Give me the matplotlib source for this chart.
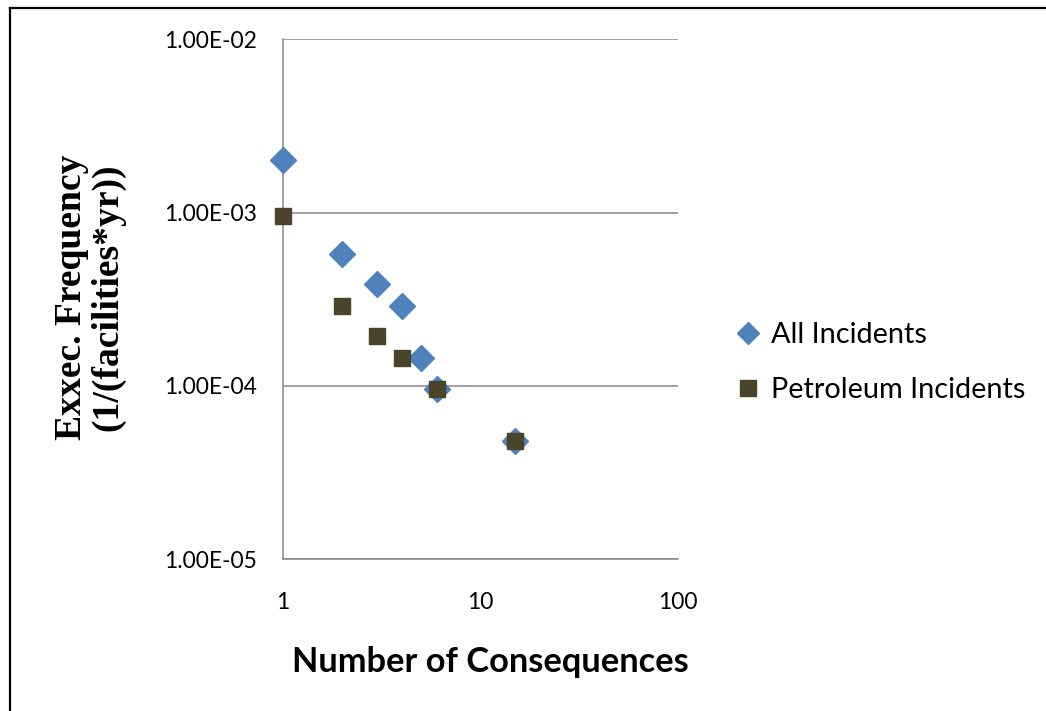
import matplotlib
matplotlib.use('Agg')
import matplotlib.pyplot as plt
from matplotlib.lines import Line2D

# ---- data ----
consequences_all = [1, 2, 3, 4, 5, 6, 15]
freq_all = [2.0e-3, 5.8e-4, 3.87e-4, 2.88e-4, 1.44e-4, 9.6e-5, 4.8e-5]
consequences_pet = [1, 2, 3, 4, 6, 15]
freq_pet = [9.6e-4, 2.88e-4, 1.93e-4, 1.44e-4, 9.6e-5, 4.8e-5]
series_labels = ['All Incidents', 'Petroleum Incidents']
y_ticks = [1e-5, 1e-4, 1e-3, 1e-2]
y_tick_labels = ['1.00E-05', '1.00E-04', '1.00E-03', '1.00E-02']
x_ticks = [1, 10, 100]
x_tick_labels = ['1', '10', '100']
x_label = 'Number of Consequences'
y_label = 'Exxec. Frequency\n(1/(facilities*yr))'

W, H = 1046, 711
fig = plt.figure(figsize=(W / 100, H / 100), dpi=100)
renderer = fig.canvas.get_renderer()


def fit(t, target, dim='w'):
    """scale the font size of text t so its extent matches target pixels"""
    for _ in range(3):
        bb = t.get_window_extent(renderer=renderer)
        cur = bb.width if dim == 'w' else bb.height
        t.set_fontsize(t.get_fontsize() * target / cur)
    return t.get_fontsize()


# axes placed in pixel terms
x0, x1 = 283, 678
ytop, ybot = 39.3, 559
ax = fig.add_axes([x0 / W, 1 - ybot / H, (x1 - x0) / W, (ybot - ytop) / H])
ax.set_xscale('log')
ax.set_yscale('log')
ax.set_xlim(1, 100)
ax.set_ylim(1e-5, 1e-2)

grid_col = '#868686'
blue = '#4F81BD'
olive = '#4A442A'

ax.plot(consequences_all, freq_all, linestyle='none', marker='D', ms=13,
        color=blue, mec=blue, clip_on=False, zorder=3, label=series_labels[0])
ax.plot(consequences_pet, freq_pet, linestyle='none', marker='s', ms=11.7,
        color=olive, mec=olive, clip_on=False, zorder=4, label=series_labels[1])

ax.set_yticks(y_ticks)
ax.set_yticklabels(y_tick_labels)
ax.set_xticks(x_ticks)
ax.set_xticklabels(x_tick_labels)
ax.yaxis.set_minor_locator(matplotlib.ticker.NullLocator())
ax.xaxis.set_minor_locator(matplotlib.ticker.NullLocator())
ax.grid(axis='y', color=grid_col, lw=1.1)
ax.grid(axis='x', visible=False)
ax.set_axisbelow(True)
for s in ['top', 'right']:
    ax.spines[s].set_visible(False)
for s in ['left', 'bottom']:
    ax.spines[s].set_color(grid_col)
    ax.spines[s].set_linewidth(1.1)

# tick label fonts
tick_font = 'Lato'
probe = fig.text(0, 0, '1.00E-02', family=tick_font, fontsize=18)
ts = fit(probe, 93)
probe.remove()
for lab in ax.get_yticklabels() + ax.get_xticklabels():
    lab.set_family(tick_font)
    lab.set_fontsize(ts)
ax.tick_params(axis='y', length=0, pad=19)
ax.tick_params(axis='x', length=0, pad=24)

# x label
xl = fig.text(490 / W, 1 - 672 / H, x_label, family='Lato', weight='bold',
              fontsize=26, ha='center', va='baseline')
fit(xl, 396)

# y label (two lines, rotated)
yl = fig.text(90 / W, 1 - 297 / H, y_label, family='Liberation Serif', weight='bold',
              fontsize=27, rotation=90, ha='center', va='center',
              multialignment='center', linespacing=1.05)
probe = fig.text(0, 0, 'Exxec. Frequency', family='Liberation Serif', weight='bold',
                 fontsize=27)
ys = fit(probe, 286)
probe.remove()
yl.set_fontsize(ys)

# legend
probe = fig.text(0, 0, 'All Incidents', family='Lato', fontsize=20)
ls = fit(probe, 156)
probe.remove()
leg = ax.legend(loc='center left', bbox_to_anchor=(739 / W, 1 - 362.5 / H),
                bbox_transform=fig.transFigure, frameon=False,
                prop={'family': 'Lato', 'size': ls}, handlelength=0.6,
                handletextpad=0.5, labelspacing=1.0, borderpad=0, borderaxespad=0)
leg.legend_handles[0].set_markersize(10.7)
leg.legend_handles[1].set_markersize(11.5)

# page border (left and top only)
fig.add_artist(Line2D([10 / W, 10 / W], [0, 1 - 8 / H], transform=fig.transFigure,
                      color='black', lw=1.6))
fig.add_artist(Line2D([10 / W, 1], [1 - 8 / H, 1 - 8 / H], transform=fig.transFigure,
                      color='black', lw=1.6))

fig.savefig('out.png', dpi=100)
